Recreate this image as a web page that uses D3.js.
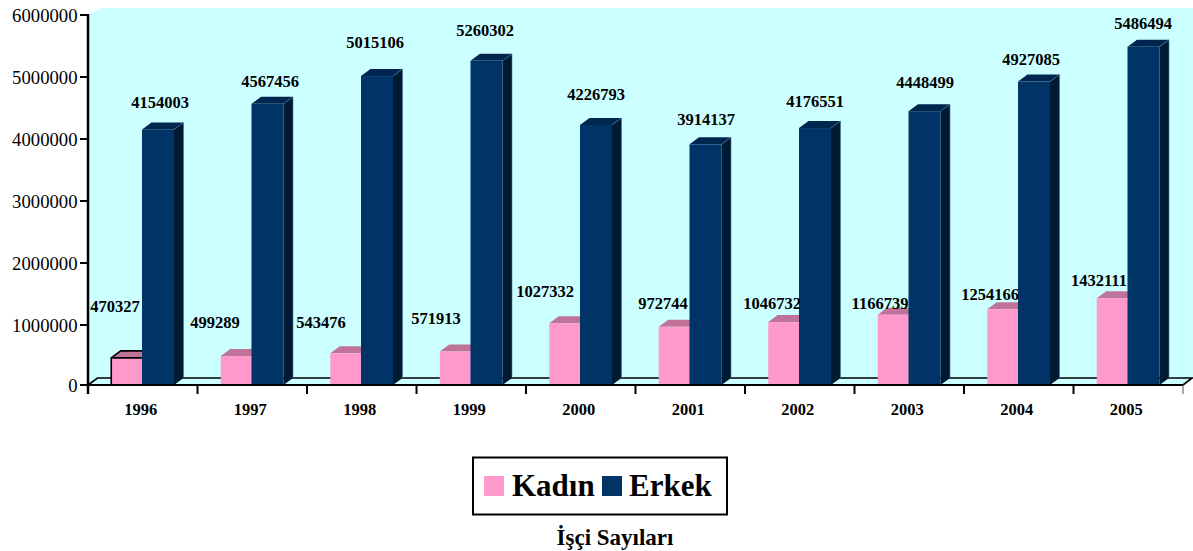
<!DOCTYPE html>
<html><head><meta charset="utf-8">
<script src="https://cdn.jsdelivr.net/npm/d3@7/dist/d3.min.js"></script>
<style>html,body{margin:0;padding:0;background:#fff}svg{display:block}text{font-family:"Liberation Serif","Times New Roman",serif;fill:#000}</style>
</head><body><div id="c"></div>
<script>
const years=["1996","1997","1998","1999","2000","2001","2002","2003","2004","2005"];
const kadin=[470327,499289,543476,571913,1027332,972744,1046732,1166739,1254166,1432111];
const erkek=[4154003,4567456,5015106,5260302,4226793,3914137,4176551,4448499,4927085,5486494];
const yTicks=[0,1000000,2000000,3000000,4000000,5000000,6000000];
const legendNames=["Kadın","Erkek"];
const chartTitle="İşçi Sayıları";
// label layout, kept apart from the data: centre x and baseline y
const kadinLabelX=[115,215,321,436,545,663,772,880,990,1099];
const kadinLabelY=[312,328,328,324,297,309,309,309,300,286];
const erkekLabelX=[160,270,375,485,596,706,815,925,1031,1143];
const erkekLabelY=[108,87,48,36,100,125,107,88,65,29];

const W=1193,H=551,dx=9.5,dy=7;
const svg=d3.select("#c").append("svg").attr("width",W).attr("height",H);
const xs=d3.scaleBand().domain(years).range([88,1183]);
const ys=d3.scaleLinear().domain([0,6000000]).range([387,15]);
const base=385,xL=88,xR=1183,wallTop=8;
const pink={front:"#FF99CC",top:"#BF7399"},navy={front:"#003366",top:"#002650",side:"#001A33",edge:"#4A7890"};

// wall + floor
svg.append("path").attr("fill","#CCFFFF")
  .attr("d",`M${xL},${ys(6000000)}L${xL+12},${wallTop}L${W},${wallTop}L${W},${base-7}L${xR},${base}L${xL},${base}Z`);
svg.append("path").attr("fill","none").attr("stroke","#000").attr("stroke-width",1.6)
  .attr("d",`M${xL},${base}L${xL+dx},${base-7}L${W},${base-7}M${xR},${base}L${W-1},${base-7}`);

const g=svg.append("g");
function box(off,vals,w,c,sel){
  years.forEach((yr,i)=>{
    const x0=xs(yr)+off,yT=ys(vals[i]);
    const ch=g.append("g");
    if(c.side) ch.append("path").attr("fill",c.side)
      .attr("d",`M${x0+w},${yT}L${x0+w+dx},${yT-dy}L${x0+w+dx},${base-dy}L${x0+w},${base}Z`);
    ch.append("path").attr("fill",c.top)
      .attr("d",`M${x0},${yT}L${x0+dx},${yT-dy}L${x0+w+dx},${yT-dy}L${x0+w},${yT}Z`);
    ch.append("rect").attr("x",x0).attr("y",yT).attr("width",w).attr("height",base-yT).attr("fill",c.front);
    if(c.edge) ch.append("path").attr("fill","none").attr("stroke",c.edge).attr("stroke-width",0.6)
      .attr("d",`M${x0+w},${yT}L${x0+w+dx},${yT-dy}L${x0+w+dx},${base-dy}`);
    if(sel===i) ch.append("path").attr("fill","none").attr("stroke","#000").attr("stroke-width",1.6)
      .attr("d",`M${x0},${base}L${x0},${yT}L${x0+w},${yT}M${x0},${yT}L${x0+dx},${yT-dy}L${x0+w},${yT-dy}`);
  });
}
const bw=xs.bandwidth();
box(bw/2-31.5,kadin,31.5,pink,0);
box(bw/2-0.75,erkek,32,navy,-1);

// axes
const ax=svg.append("g").attr("stroke","#000").attr("stroke-linecap","butt");
ax.append("line").attr("x1",xL).attr("x2",xL).attr("y1",ys(6000000)-1).attr("y2",394).attr("stroke-width",2.5);
ax.append("line").attr("x1",xL-8).attr("x2",xR).attr("y1",base).attr("y2",base).attr("stroke-width",2);
yTicks.forEach(t=>{
  const p=t===0?base:ys(t);
  ax.append("line").attr("x1",xL-8).attr("x2",xL).attr("y1",p).attr("y2",p).attr("stroke-width",2);
  svg.append("text").attr("x",77.5).attr("y",p+6.5).attr("text-anchor","end").attr("font-size",18.7).text(t);
});
years.forEach((yr,i)=>{
  ax.append("line").attr("x1",xs(yr)).attr("x2",xs(yr)).attr("y1",base).attr("y2",394).attr("stroke-width",2);
  svg.append("text").attr("x",xs(yr)+bw/2-2).attr("y",415).attr("text-anchor","middle")
    .attr("font-size",16.5).attr("font-weight","bold").text(yr);
});
ax.append("line").attr("x1",xR).attr("x2",xR).attr("y1",base).attr("y2",394).attr("stroke-width",1).attr("stroke","#555");

// labels
function labels(vals,lx,ly){
  vals.forEach((v,i)=>svg.append("text").attr("x",lx[i]).attr("y",ly[i]).attr("text-anchor","middle")
    .attr("font-size",16.5).attr("font-weight","bold").text(v));
}
labels(kadin,kadinLabelX,kadinLabelY);
labels(erkek,erkekLabelX,erkekLabelY);

// legend
svg.append("rect").attr("x",473).attr("y",457.5).attr("width",254).attr("height",57)
  .attr("fill","#fff").attr("stroke","#000").attr("stroke-width",2);
const lg=[{sx:484,tx:512,c:pink.front},{sx:602,tx:629,c:navy.front}];
lg.forEach((l,i)=>{
  svg.append("rect").attr("x",l.sx).attr("y",476).attr("width",20).attr("height",20).attr("fill",l.c);
  svg.append("text").attr("x",l.tx).attr("y",496).attr("font-size",31).attr("font-weight","bold").text(legendNames[i]);
});
svg.append("text").attr("x",615).attr("y",545).attr("text-anchor","middle").attr("font-size",23).attr("font-weight","bold").text(chartTitle);
</script></body></html>
